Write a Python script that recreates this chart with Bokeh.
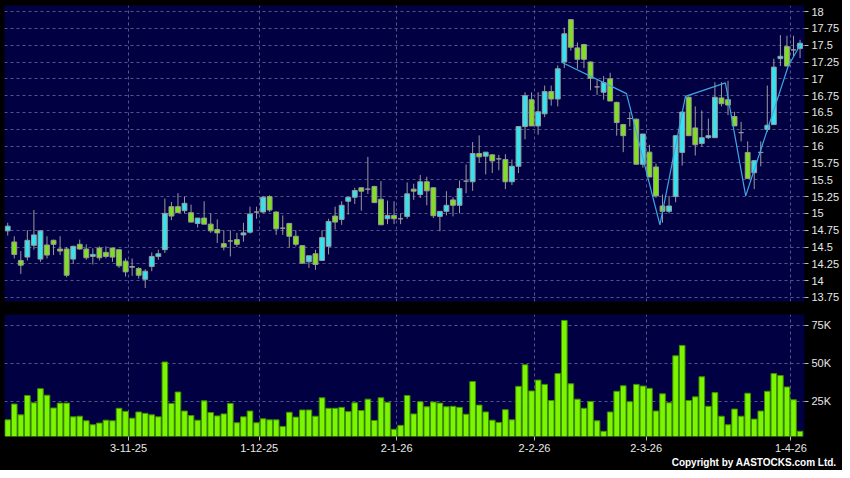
from bokeh.plotting import figure
from bokeh.layouts import column
from bokeh.models import Range1d, FixedTicker, Title, ColumnDataSource
from bokeh.embed import file_html
from bokeh.resources import INLINE

# ---------------- data ----------------
open_ = [14.74, 14.575, 14.30, 14.35, 14.525, 14.32, 14.53, 14.60, 14.47, 14.47,
         14.32, 14.54, 14.47, 14.36, 14.485, 14.42, 14.485, 14.46, 14.29, 14.20,
         14.18, 14.02, 14.21, 14.36, 14.46, 15.10, 15.10, 15.04, 15.01, 14.85,
         14.93, 14.84, 14.76, 14.55, 14.59, 14.61, 14.68, 14.72, 15.02, 15.02,
         15.25, 15.02, 14.78, 14.85, 14.66, 14.52, 14.28, 14.40, 14.30, 14.51,
         14.96, 14.91, 15.18, 15.24, 15.38, 15.36, 15.40, 15.21, 14.92, 14.97,
         14.92, 14.955, 15.36, 15.28, 15.47, 15.38, 14.955, 15.03, 15.20, 15.12,
         15.48, 15.47, 15.89, 15.85, 15.87, 15.81, 15.80, 15.47, 15.70, 16.29,
         16.69, 16.30, 16.48, 16.81, 16.70, 17.25, 17.88, 17.46, 17.51, 17.25,
         16.88, 16.80, 17.00, 16.65, 16.32, 16.41, 16.40, 15.73, 15.91, 15.69,
         15.11, 15.03, 15.25, 15.906, 16.726, 16.27, 16.04, 16.125, 16.125, 16.716,
         16.69, 16.44, 16.20, 15.906, 15.604, 15.906, 16.247, 16.32, 17.30, 17.48,
         17.43, 17.45]
high = [14.86, 14.66, 14.44, 14.75, 15.05, 14.75, 14.66, 14.61, 14.66, 14.50,
        14.52, 14.61, 14.54, 14.48, 14.51, 14.51, 14.49, 14.46, 14.33, 14.33,
        14.20, 14.17, 14.42, 14.46, 15.22, 15.17, 15.30, 15.25, 15.13, 14.93,
        15.18, 15.00, 14.91, 14.75, 14.75, 14.71, 14.86, 15.10, 15.10, 15.26,
        15.27, 15.03, 14.97, 14.86, 14.75, 14.53, 14.37, 14.46, 14.75, 14.92,
        15.10, 15.18, 15.24, 15.38, 15.39, 15.84, 15.41, 15.48, 15.19, 15.18,
        15.00, 15.46, 15.44, 15.57, 15.545, 15.39, 15.03, 15.33, 15.24, 15.49,
        15.726, 16.06, 16.16, 15.91, 15.88, 15.87, 15.88, 15.80, 16.29, 16.80,
        16.80, 16.80, 16.90, 16.90, 17.20, 17.76, 17.89, 17.54, 17.52, 17.26,
        16.98, 17.04, 17.09, 16.66, 16.33, 16.50, 16.41, 16.18, 16.02, 15.74,
        15.28, 15.26, 16.16, 16.51, 16.74, 16.59, 16.53, 16.41, 16.95, 16.95,
        16.97, 16.51, 16.36, 16.07, 15.784, 16.07, 16.90, 17.30, 17.65, 17.64,
        17.64, 17.58]
low = [14.67, 14.33, 14.10, 14.30, 14.46, 14.28, 14.33, 14.38, 14.38, 14.05,
       14.25, 14.46, 14.31, 14.24, 14.30, 14.33, 14.28, 14.19, 14.06, 14.07,
       14.03, 13.89, 14.14, 14.31, 14.41, 14.90, 15.01, 15.00, 14.87, 14.79,
       14.84, 14.71, 14.56, 14.45, 14.36, 14.50, 14.58, 14.70, 14.92, 15.00,
       15.02, 14.68, 14.68, 14.49, 14.51, 14.25, 14.19, 14.16, 14.30, 14.39,
       14.76, 14.83, 14.98, 15.14, 15.04, 15.29, 15.16, 14.83, 14.84, 14.84,
       14.84, 14.92, 15.20, 15.23, 15.12, 14.93, 14.735, 14.97, 14.955, 15.00,
       15.30, 15.335, 15.75, 15.58, 15.60, 15.64, 15.36, 15.42, 15.60, 16.10,
       16.30, 16.17, 16.43, 16.60, 16.59, 17.16, 17.42, 17.15, 17.16, 16.83,
       16.76, 16.69, 16.67, 16.155, 15.91, 16.29, 15.73, 15.68, 15.54, 15.23,
       14.86, 15.00, 15.165, 15.71, 16.155, 15.86, 15.99, 16.106, 16.12, 16.59,
       16.46, 16.30, 16.07, 15.52, 15.36, 15.70, 16.21, 16.32, 17.19, 17.19,
       17.335, 17.31]
close = [14.81, 14.39, 14.23, 14.60, 14.68, 14.74, 14.38, 14.54, 14.44, 14.08,
         14.51, 14.47, 14.34, 14.39, 14.34, 14.36, 14.35, 14.22, 14.13, 14.21,
         14.08, 14.14, 14.36, 14.40, 15.00, 14.96, 15.01, 15.15, 14.87, 14.93,
         14.84, 14.74, 14.71, 14.50, 14.59, 14.54, 14.71, 14.99, 15.02, 15.24,
         15.05, 14.77, 14.78, 14.66, 14.54, 14.26, 14.37, 14.24, 14.64, 14.88,
         14.87, 15.12, 15.24, 15.34, 15.33, 15.36, 15.16, 14.83, 14.97, 14.92,
         14.92, 15.29, 15.33, 15.47, 15.335, 14.965, 15.03, 15.12, 15.12, 15.37,
         15.48, 15.89, 15.84, 15.91, 15.78, 15.81, 15.47, 15.70, 16.29, 16.75,
         16.30, 16.51, 16.81, 16.70, 17.15, 17.67, 17.47, 17.29, 17.29, 17.01,
         16.88, 16.945, 16.67, 16.35, 16.155, 16.41, 15.73, 16.18, 15.54, 15.26,
         15.03, 15.11, 16.155, 16.506, 16.155, 16.02, 16.125, 16.155, 16.726, 16.63,
         16.61, 16.30, 16.20, 15.52, 15.784, 15.906, 16.31, 17.174, 17.335, 17.19,
         17.43, 17.53]
volume_k = [12.9, 23.3, 16.2, 28.9, 24.1, 33.4, 29.1, 20.7, 23.9, 23.9,
            14.9, 15.3, 12.3, 9.7, 10.8, 12.7, 12.3, 20.5, 18.5, 14.0,
            18.1, 17.2, 16.2, 14.9, 50.9, 23.7, 31.2, 18.7, 15.7, 12.7,
            25.4, 17.7, 15.5, 16.8, 23.7, 11.0, 14.9, 18.7, 11.0, 13.6,
            12.9, 12.9, 8.6, 17.9, 14.7, 19.4, 19.4, 15.3, 27.4, 20.5,
            20.5, 21.1, 18.3, 24.1, 19.0, 26.5, 12.5, 27.4, 24.4, 6.7,
            9.3, 28.9, 16.8, 24.8, 21.5, 24.6, 23.9, 21.5, 21.8, 21.1,
            16.6, 38.1, 22.6, 18.1, 12.7, 11.2, 19.6, 12.9, 34.9, 49.1,
            31.9, 39.0, 36.2, 25.6, 43.3, 78.2, 36.6, 26.5, 20.5, 25.0,
            12.3, 5.4, 18.1, 31.7, 35.3, 24.8, 36.2, 35.1, 33.6, 18.7,
            30.0, 24.1, 55.0, 61.8, 25.6, 28.0, 41.2, 21.8, 30.8, 15.3,
            9.7, 20.0, 15.3, 30.4, 13.4, 18.7, 31.7, 43.3, 42.0, 34.5,
            26.1, 5.4]

# zig-zag overlay (index position, price)
zz_x = [84.5, 94.5, 99.6, 103.5, 109.6, 112.7, 119.2, 121.0]
zz_y = [17.25, 16.78, 14.83, 16.74, 16.94, 15.26, 17.19, 17.50]

# date ticks (index position of month gridlines) and labels
date_pos = [18.45, 38.4, 59.4, 80.45, 97.5, 119.6]
date_labels = ["3-11-25", "1-12-25", "2-1-26", "2-2-26", "2-3-26", "1-4-26"]

price_ticks = [13.75, 14.0, 14.25, 14.5, 14.75, 15.0, 15.25, 15.5, 15.75,
               16.0, 16.25, 16.5, 16.75, 17.0, 17.25, 17.5, 17.75, 18.0]
price_labels = ["13.75", "14", "14.25", "14.5", "14.75", "15", "15.25", "15.5", "15.75",
                "16", "16.25", "16.5", "16.75", "17", "17.25", "17.5", "17.75", "18"]
vol_ticks = [25000, 50000, 75000]
vol_labels = ["25K", "50K", "75K"]

# ---------------- styling ----------------
NAVY = "#000042"
BLACK = "#000000"
GRID = "#55558a"
CYAN = "#33e3f0"
GREEN = "#80e01f"
GREY = "#9a9a9a"
VOLG = "#7cf500"
VOLEDGE = "#3f8f00"
FONT = "Liberation Sans"

n = len(close)
xs = list(range(n))
colors = []
for o, c in zip(open_, close):
    colors.append(CYAN if c > o else (GREEN if c < o else GREY))
src = ColumnDataSource(dict(
    x=xs, o=open_, h=high, l=low, c=close,
    top=[max(a, b) for a, b in zip(open_, close)],
    bot=[min(a, b) for a, b in zip(open_, close)],
    col=colors, vol=[v * 1000 for v in volume_k]))

x_range = Range1d(-0.49, 121.68)

p = figure(frame_width=800, frame_height=296, x_range=x_range,
           y_range=Range1d(13.69, 18.09), x_axis_location=None,
           y_axis_location="right", output_backend="svg", toolbar_location=None,
           min_border_left=4, min_border_right=38, min_border_top=5, min_border_bottom=13)
p.background_fill_color = NAVY
p.border_fill_color = BLACK
p.outline_line_color = None

p.segment(x0="x", y0="h", x1="x", y1="l", source=src, line_color=GREY, line_width=1)
p.vbar(x="x", top="top", bottom="bot", width=0.74, source=src,
       fill_color="col", line_color=GREY, line_width=1)
p.line(zz_x, zz_y, line_color="#3fa6e6", line_width=1.2)

p.yaxis.ticker = FixedTicker(ticks=price_ticks)
p.yaxis.major_label_overrides = dict(zip(price_ticks, price_labels))
p.ygrid.ticker = FixedTicker(ticks=price_ticks)
p.xgrid.ticker = FixedTicker(ticks=date_pos)
for g in (p.xgrid, p.ygrid):
    g.grid_line_color = GRID
    g.grid_line_dash = "3 3"
    g.grid_line_width = 1

ax = p.yaxis[0]
ax.axis_line_color = None
ax.major_tick_line_color = "#bbbbbb"
ax.major_tick_out = 4
ax.major_tick_in = 0
ax.minor_tick_line_color = None
ax.major_label_text_color = "#e8e8e8"
ax.major_label_text_font = FONT
ax.major_label_text_font_size = "11px"
ax.major_label_standoff = 3

v = figure(frame_width=800, frame_height=122, x_range=x_range,
           y_range=Range1d(1970, 82100), y_axis_location="right",
           output_backend="svg", toolbar_location=None,
           min_border_left=4, min_border_right=38, min_border_top=0, min_border_bottom=34)
v.background_fill_color = NAVY
v.border_fill_color = BLACK
v.outline_line_color = None
v.vbar(x="x", top="vol", bottom=0, width=0.86, source=src,
       fill_color=VOLG, line_color=VOLEDGE, line_width=1)

v.yaxis.ticker = FixedTicker(ticks=vol_ticks)
v.yaxis.major_label_overrides = dict(zip(vol_ticks, vol_labels))
v.ygrid.ticker = FixedTicker(ticks=vol_ticks)
v.xaxis.ticker = FixedTicker(ticks=date_pos)
v.xaxis.major_label_overrides = dict(zip(date_pos, date_labels))
v.xgrid.ticker = FixedTicker(ticks=date_pos)
for g in (v.xgrid, v.ygrid):
    g.grid_line_color = GRID
    g.grid_line_dash = "3 3"
    g.grid_line_width = 1
for a in (v.yaxis[0], v.xaxis[0]):
    a.axis_line_color = None
    a.major_tick_line_color = "#bbbbbb"
    a.major_tick_out = 4
    a.major_tick_in = 0
    a.minor_tick_line_color = None
    a.major_label_text_color = "#e8e8e8"
    a.major_label_text_font = FONT
    a.major_label_text_font_size = "11px"
    a.major_label_standoff = 3

v.add_layout(Title(text="Copyright by AASTOCKS.com Ltd.", align="right", offset=-32,
                   text_color="#ffffff", text_font=FONT, text_font_size="10px",
                   text_font_style="bold", standoff=0), "below")

layout = column(p, v, spacing=0, styles={"background-color": "black"})
open("out.html", "w").write(file_html(layout, INLINE))
